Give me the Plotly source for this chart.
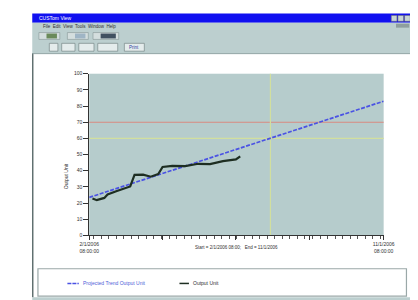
import plotly.graph_objects as go

W, H = 418, 300

# ---- data ----
obs_dates = ["2006-02-04", "2006-02-08", "2006-02-15", "2006-02-18", "2006-02-26",
             "2006-03-08", "2006-03-11", "2006-03-15", "2006-03-23", "2006-03-30",
             "2006-04-06", "2006-04-10", "2006-04-19", "2006-05-01", "2006-05-13",
             "2006-05-24", "2006-06-05", "2006-06-17", "2006-06-21"]
obs_values = [22.8, 21.8, 23.2, 25.3, 27.3, 29.3, 30.3, 37.4, 37.6, 36.3,
              37.9, 42.3, 43.0, 42.9, 44.3, 44.1, 45.9, 47.0, 48.9]
trend_dates = ["2006-02-01", "2006-11-01"]
trend_values = [23.5, 83.0]
upper_limit = 70
lower_limit = 60
cross_date = "2006-07-19"
x_range = ["2006-02-01", "2006-11-01"]
x_major = ["2006-02-01", "2006-04-10", "2006-06-17", "2006-08-24", "2006-11-01"]
x_major_text = ["2/1/2006<br>08:00:00", "", "", "", "11/1/2006<br>08:00:00"]
y_ticks = [0, 10, 20, 30, 40, 50, 60, 70, 80, 90, 100]
series_names = ["Projected Trend Output Unit", "Output Unit"]

def px(x):
    return x / W

def py(y):
    return 1 - y / H

FONT = "Liberation Sans"
CHROME = "#bccfcf"
PLOTBG = "#b6cccc"
LIMIT_GREEN = "#d2df9e"

fig = go.Figure()
fig.add_trace(go.Scatter(x=trend_dates, y=trend_values, mode="lines",
                         line=dict(color="#4a52e4", width=1.7, dash="4px,1.5px"),
                         name=series_names[0], showlegend=False))
fig.add_trace(go.Scatter(x=obs_dates, y=obs_values, mode="lines",
                         line=dict(color="#1e2e22", width=2.2),
                         name=series_names[1], showlegend=False))

shapes = []
# limit lines
shapes.append(dict(type="line", xref="paper", yref="y", x0=px(75), x1=px(385),
                   y0=upper_limit, y1=upper_limit, line=dict(color="#d88a80", width=1.2), layer="below"))
shapes.append(dict(type="line", xref="paper", yref="y", x0=px(75), x1=px(385),
                   y0=lower_limit, y1=lower_limit, line=dict(color=LIMIT_GREEN, width=1.2), layer="below"))
shapes.append(dict(type="line", xref="x", yref="paper", x0=cross_date, x1=cross_date,
                   y0=py(229), y1=py(64), line=dict(color=LIMIT_GREEN, width=1.2), layer="below"))

# window chrome
shapes.append(dict(type="rect", xref="paper", yref="paper", x0=px(15), x1=px(418),
                   y0=py(12), y1=py(2.5), fillcolor="#1010f0", line=dict(width=0), layer="below"))
shapes.append(dict(type="rect", xref="paper", yref="paper", x0=px(15), x1=px(418),
                   y0=py(43), y1=py(12), fillcolor=CHROME, line=dict(width=0), layer="below"))
shapes.append(dict(type="rect", xref="paper", yref="paper", x0=px(15), x1=px(418),
                   y0=py(300), y1=py(292), fillcolor=CHROME, line=dict(width=0), layer="below"))
shapes.append(dict(type="line", xref="paper", yref="paper", x0=px(15.5), x1=px(15.5),
                   y0=py(292), y1=py(43), line=dict(color="#607070", width=1.5), layer="below"))
shapes.append(dict(type="line", xref="paper", yref="paper", x0=px(15), x1=px(418),
                   y0=py(43.5), y1=py(43.5), line=dict(color="#8fa3a3", width=1), layer="below"))
# title bar buttons
for bx in (393, 400, 407):
    shapes.append(dict(type="rect", xref="paper", yref="paper", x0=px(bx), x1=px(bx + 6),
                       y0=py(10.5), y1=py(4.5), fillcolor="#c8d4d4", line=dict(color="#606060", width=0.5)))
shapes.append(dict(type="rect", xref="paper", yref="paper", x0=px(398), x1=px(412),
                   y0=py(17), y1=py(13), fillcolor="#8e9e9e", line=dict(width=0)))
# toolbar buttons row 1
for x0, x1, c in [(22, 44, "#6a8a5a"), (52, 74, "#9fb5c5"), (79, 106, "#405060")]:
    shapes.append(dict(type="rect", xref="paper", yref="paper", x0=px(x0), x1=px(x1),
                       y0=py(29), y1=py(22), fillcolor="#d4dede", line=dict(color="#7a8a8a", width=0.5)))
    shapes.append(dict(type="rect", xref="paper", yref="paper", x0=px(x0 + 8), x1=px(x1 - 3),
                       y0=py(28), y1=py(23), fillcolor=c, line=dict(width=0)))
# toolbar buttons row 2
for x0, x1 in [(33, 42), (46, 60), (64, 80), (84, 105), (112, 133)]:
    shapes.append(dict(type="rect", xref="paper", yref="paper", x0=px(x0), x1=px(x1),
                       y0=py(41), y1=py(33), fillcolor="#e4ecec", line=dict(color="#6a7a7a", width=0.6)))
# legend box
shapes.append(dict(type="rect", xref="paper", yref="paper", x0=px(21), x1=px(409),
                   y0=py(291), y1=py(263), fillcolor="white", line=dict(color="#9aa8a8", width=1.2), layer="below"))
shapes.append(dict(type="line", xref="paper", yref="paper", x0=px(52), x1=px(64),
                   y0=py(278), y1=py(278), line=dict(color="#4a52e4", width=1.5, dash="4px,1px")))
shapes.append(dict(type="line", xref="paper", yref="paper", x0=px(170), x1=px(180),
                   y0=py(278), y1=py(278), line=dict(color="#1e2e22", width=1.5)))

ann = []
def txt(x, y, s, size=5, color="#303030", xanchor="left", **kw):
    ann.append(dict(xref="paper", yref="paper", x=px(x), y=py(y), text=s, showarrow=False,
                    xanchor=xanchor, yanchor="middle", font=dict(family=FONT, size=size, color=color), **kw))

txt(20, 7.5, "CUSTom View", size=5, color="white")
txt(24, 16, "File  Edit  View  Tools  Window  Help", size=4.5)
txt(115, 37, "Print", size=4.5, color="#3040a0")
txt(50, 168, "Output Unit", size=5, xanchor="center", textangle=-90)
txt(230, 241, "Start = 2/1/2006 08:00;   End = 11/1/2006", size=4.5, xanchor="center")
txt(66, 278, series_names[0], size=5, color="#5060d8")
txt(182, 278, series_names[1], size=5, color="#303030")

fig.update_layout(
    width=W, height=H, autosize=False,
    margin=dict(l=0, r=0, t=0, b=0),
    paper_bgcolor="white", plot_bgcolor=PLOTBG,
    shapes=shapes, annotations=ann, showlegend=False,
    xaxis=dict(domain=[px(75), px(385)], type="date", range=x_range,
               tickvals=x_major, ticktext=x_major_text, ticks="outside", ticklen=4,
               tickcolor="#333", showgrid=False, zeroline=False, showline=True,
               linecolor="#333", linewidth=1,
               minor=dict(dtick=7 * 86400000, ticks="outside", ticklen=2.5, tickcolor="#555"),
               tickfont=dict(family=FONT, size=5, color="#303030")),
    yaxis=dict(domain=[py(229), py(64)], range=[0, 100], tickvals=y_ticks,
               ticks="outside", ticklen=5, tickcolor="#333", showgrid=False, zeroline=False,
               showline=True, linecolor="#333", linewidth=1,
               tickfont=dict(family=FONT, size=5, color="#303030")),
)

fig.write_html("out.html")
